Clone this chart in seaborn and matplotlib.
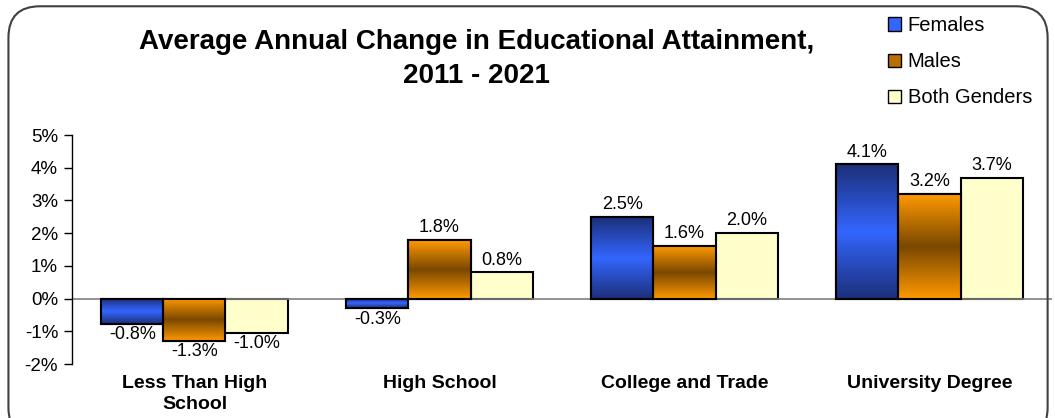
import numpy as np
import pandas as pd
import matplotlib
matplotlib.use("Agg")
import matplotlib.pyplot as plt
import seaborn as sns
from matplotlib.patches import FancyBboxPatch, Patch
from matplotlib.colors import LinearSegmentedColormap

sns.set_theme(style="white")
plt.rcParams['font.family'] = ['Liberation Sans', 'DejaVu Sans']
plt.rcParams.update({'text.color': 'black', 'axes.labelcolor': 'black',
                     'xtick.color': 'black', 'ytick.color': 'black'})

categories = ['Less Than High\nSchool', 'High School', 'College and Trade', 'University Degree']
females = [-0.77, -0.3, 2.5, 4.1]
males = [-1.29, 1.8, 1.6, 3.2]
both = [-1.04, 0.8, 2.0, 3.7]
series = ['Females', 'Males', 'Both Genders']

data = pd.DataFrame({
    'Category': categories * 3,
    'Group': np.repeat(series, len(categories)),
    'Change': females + males + both,
})

fig = plt.figure(figsize=(10.55, 4.18), dpi=100)
ax = fig.add_axes([0.0682, 0.129, 0.929, 0.548])

sns.barplot(data=data, x='Category', y='Change', hue='Group', hue_order=series,
            width=0.76, ax=ax, legend=False, edgecolor='black', linewidth=1.5,
            palette=['#3366ff', '#ff9900', '#ffffcc'], saturation=1)

# gradient fills
cmaps = {
    'Females': LinearSegmentedColormap.from_list('f', ['#1c2f78', '#3366ff', '#1c2f78']),
    'Males': LinearSegmentedColormap.from_list('m', ['#ff9900', '#7a4800', '#ff9900']),
}
grad = np.linspace(0, 1, 256).reshape(-1, 1)
for name, cont in zip(series, ax.containers):
    for bar in cont:
        if name in cmaps:
            x0, y0 = bar.get_x(), bar.get_y()
            w, h = bar.get_width(), bar.get_height()
            img = ax.imshow(grad, cmap=cmaps[name], aspect='auto',
                            extent=[x0, x0 + w, min(y0, y0 + h), max(y0, y0 + h)],
                            zorder=bar.get_zorder() + 0.1)
            img.set_clip_path(bar)
            edge = plt.Rectangle((x0, y0), w, h, fill=False, edgecolor='black',
                                 linewidth=1.5, zorder=bar.get_zorder() + 0.2)
            ax.add_patch(edge)
    labels = [f'{v:.1f}%' for v in cont.datavalues]
    for bar, lab, v in zip(cont, labels, cont.datavalues):
        xc = bar.get_x() + bar.get_width() / 2
        if v >= 0:
            ax.text(xc, v + 0.12, lab, ha='center', va='bottom', fontsize=13)
        else:
            ax.text(xc, v - 0.08, lab, ha='center', va='top', fontsize=13)

ax.set_xlim(-0.5, 3.5)
ax.set_ylim(-2, 5)
ax.set_yticks(range(-2, 6))
ax.set_yticklabels([f'{t}%' for t in range(-2, 6)], fontsize=13.5)
ax.axhline(0, color='#808080', linewidth=1.2, zorder=1)
ax.set_xlabel('')
ax.set_ylabel('')
ax.set_xticks(range(len(categories)))
ax.set_xticklabels(categories, fontsize=14, fontweight='bold', linespacing=1.3)
ax.tick_params(axis='x', length=0, pad=8)
ax.tick_params(axis='y', length=6, width=1, direction='out', left=True, pad=4)
for s in ['top', 'right', 'bottom']:
    ax.spines[s].set_visible(False)
ax.spines['left'].set_color('black')
ax.spines['left'].set_linewidth(1)

fig.text(0.452, 0.86, 'Average Annual Change in Educational Attainment,\n2011 - 2021',
         ha='center', va='center', fontsize=20, fontweight='bold', linespacing=1.4)

handles = [Patch(facecolor='#3366ff', edgecolor='black'),
           Patch(facecolor='#b86e00', edgecolor='black'),
           Patch(facecolor='#ffffcc', edgecolor='black')]
fig.legend(handles, series, loc='upper left', bbox_to_anchor=(0.828, 0.995),
           frameon=False, fontsize=14.5, labelspacing=0.85, handlelength=0.65,
           handleheight=0.65, handletextpad=0.35, borderaxespad=0.3)

border = FancyBboxPatch((0.008, -0.05), 0.985, 1.035, boxstyle='round,pad=0,rounding_size=0.03',
                        transform=fig.transFigure, fill=False, edgecolor='#404040',
                        linewidth=1.5, mutation_aspect=2.5)
fig.patches.append(border)

fig.savefig('out.png', dpi=100)
